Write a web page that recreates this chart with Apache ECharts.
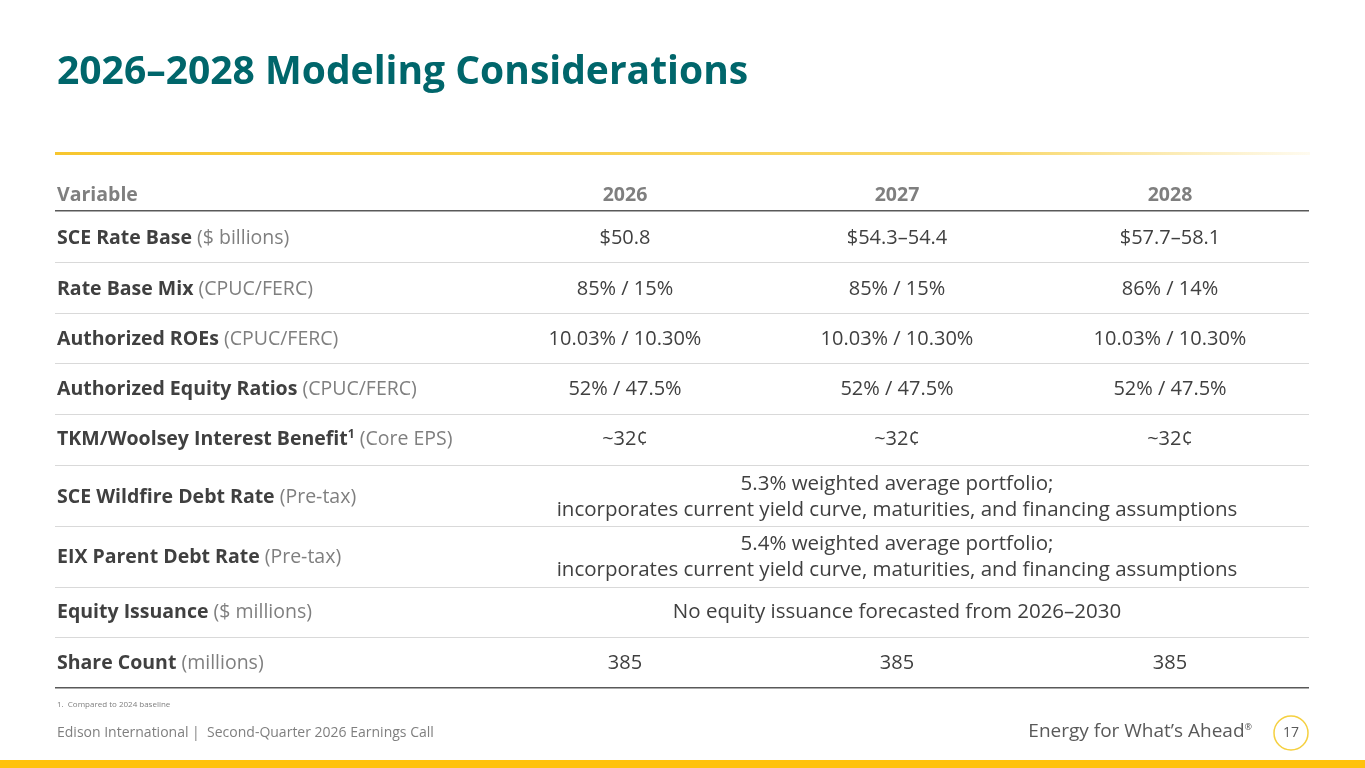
<!DOCTYPE html>
<html><head><meta charset="utf-8">
<script src="https://cdn.jsdelivr.net/npm/echarts@6/dist/echarts.min.js"></script>
<style>html,body{margin:0;padding:0;background:#fff}#c{width:1365px;height:768px}</style>
</head><body><div id="c"></div>
<script>
var title = "2026–2028 Modeling Considerations";
var headers = ["Variable", "2026", "2027", "2028"];
var labelBold = ["SCE Rate Base", "Rate Base Mix", "Authorized ROEs", "Authorized Equity Ratios", "TKM/Woolsey Interest Benefit", "SCE Wildfire Debt Rate", "EIX Parent Debt Rate", "Equity Issuance", "Share Count"];
var labelSup = ["", "", "", "", "1", "", "", "", ""];
var labelNote = ["($ billions)", "(CPUC/FERC)", "(CPUC/FERC)", "(CPUC/FERC)", "(Core EPS)", "(Pre-tax)", "(Pre-tax)", "($ millions)", "(millions)"];
var values2026 = ["$50.8", "85% / 15%", "10.03% / 10.30%", "52% / 47.5%", "~32¢", null, null, null, "385"];
var values2027 = ["$54.3–54.4", "85% / 15%", "10.03% / 10.30%", "52% / 47.5%", "~32¢", null, null, null, "385"];
var values2028 = ["$57.7–58.1", "86% / 14%", "10.03% / 10.30%", "52% / 47.5%", "~32¢", null, null, null, "385"];
var spanText = [null, null, null, null, null,
  "5.3% weighted average portfolio;\nincorporates current yield curve, maturities, and financing assumptions",
  "5.4% weighted average portfolio;\nincorporates current yield curve, maturities, and financing assumptions",
  "No equity issuance forecasted from 2026–2030", null];
var rowCenters = [238, 289, 339, 389, 439, 497, 557, 612, 663];
var sepY = [262, 313, 363, 414, 465, 526, 587, 637];
var footnote = "1.  Compared to 2024 baseline";
var footerLeft = "Edison International |  Second-Quarter 2026 Earnings Call";
var tagline = "Energy for What’s Ahead";
var pageNum = "17";

var F = "'Open Sans', sans-serif";
var colX = [57, 625, 897, 1170];
var g = [];
g.push({type:'text', x:57, y:73, style:{text:title, font:"bold 39px "+F, fill:'#00666b', verticalAlign:'middle', letterSpacing:0.6}});
g.push({type:'rect', shape:{x:55,y:152,width:1255,height:3}, style:{fill:new echarts.graphic.LinearGradient(0,0,1,0,[{offset:0,color:'#f7c62f'},{offset:0.75,color:'#f9d86a'},{offset:1,color:'rgba(249,216,106,0.1)'}])}});
g.push({type:'text', x:57, y:195, style:{text:headers[0], font:"bold 19.5px "+F, fill:'#7f7f7f', verticalAlign:'middle'}});
for (var i=1;i<4;i++) g.push({type:'text', x:colX[i], y:195, style:{text:headers[i], font:"bold 19.5px "+F, fill:'#7f7f7f', align:'center', verticalAlign:'middle'}});
g.push({type:'rect', shape:{x:55,y:210,width:1254,height:1.5}, style:{fill:'#595959'}});
g.push({type:'rect', shape:{x:55,y:687,width:1254,height:1.5}, style:{fill:'#595959'}});
sepY.forEach(function(y){ g.push({type:'rect', shape:{x:55,y:y,width:1254,height:1}, style:{fill:'#d9d9d9'}}); });
var vals=[values2026, values2027, values2028];
for (var r=0;r<labelBold.length;r++){
  var y=rowCenters[r];
  g.push({type:'text', x:57, y:y, style:{
    text:'{b|'+labelBold[r]+'}'+(labelSup[r]?'{s|'+labelSup[r]+'}':'')+'{n| '+labelNote[r]+'}',
    verticalAlign:'middle',
    rich:{b:{font:"bold 19.5px "+F, fill:'#404040'}, s:{font:"bold 12px "+F, fill:'#404040', verticalAlign:'top', padding:[0,0,8,0]}, n:{font:"19.5px "+F, fill:'#7f7f7f'}}
  }});
  if (spanText[r]) {
    g.push({type:'text', x:897, y:y, style:{text:spanText[r], font:"20.5px "+F, fill:'#404040', align:'center', verticalAlign:'middle', lineHeight:26}});
  } else {
    for (var c=0;c<3;c++) g.push({type:'text', x:colX[c+1], y:y, style:{text:vals[c][r], font:"20px "+F, fill:'#404040', align:'center', verticalAlign:'middle'}});
  }
}
g.push({type:'text', x:57, y:705, style:{text:footnote, font:"8px "+F, fill:'#7f7f7f', verticalAlign:'middle'}});
g.push({type:'text', x:57, y:733, style:{text:footerLeft, font:"14px "+F, fill:'#7f7f7f', verticalAlign:'middle'}});
g.push({type:'text', x:1252, y:732, style:{text:'{t|'+tagline+'}{r|®}', align:'right', verticalAlign:'middle', rich:{t:{font:"19px "+F, fill:'#595959'}, r:{font:"9px "+F, fill:'#595959', padding:[0,0,10,0]}}}});
g.push({type:'circle', shape:{cx:1291,cy:733,r:17}, style:{fill:'#fff', stroke:'#f5d040', lineWidth:1.5}});
g.push({type:'text', x:1291, y:733, style:{text:pageNum, font:"14px "+F, fill:'#595959', align:'center', verticalAlign:'middle'}});
g.push({type:'rect', shape:{x:0,y:760,width:1365,height:8}, style:{fill:'#ffc20e'}});

var chart = echarts.init(document.getElementById('c'));
chart.setOption({backgroundColor:'#fff', animation:false, graphic:g});
</script></body></html>
